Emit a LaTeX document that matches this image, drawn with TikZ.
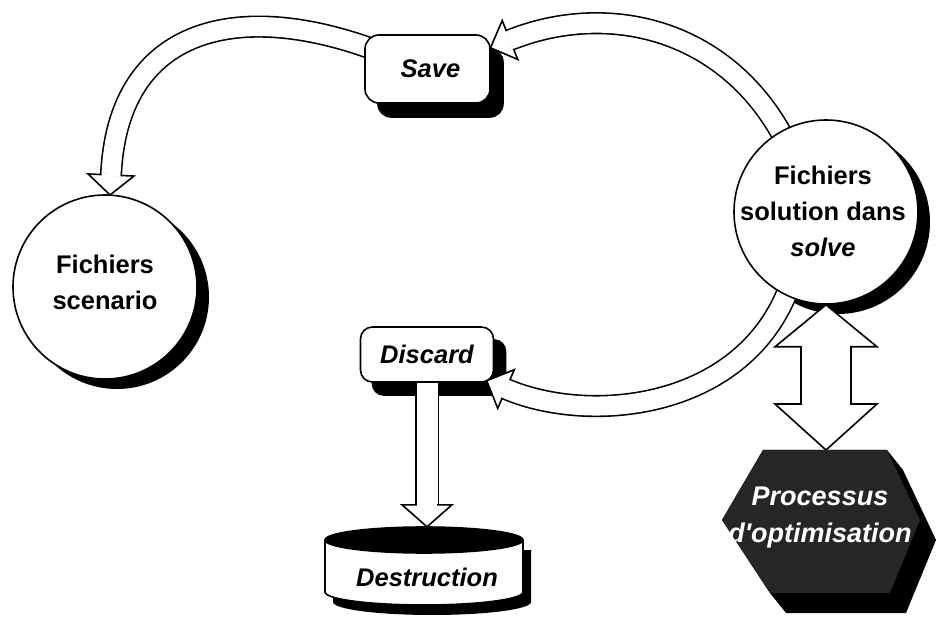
\documentclass[tikz,border=0pt]{standalone}
\usepackage{fontspec}
\setmainfont{Liberation Sans}
\usetikzlibrary{calc}
\pgfdeclarelayer{shad}
\pgfdeclarelayer{arr}
\pgfsetlayers{shad,arr,main}
\begin{document}
\begin{tikzpicture}[x=1pt,y=-1pt,
  outl/.style={draw=black, line width=1.6pt},
  txt/.style={font=\fontsize{25.5}{36}\selectfont\bfseries, align=center, inner sep=0pt},
  itxt/.style={font=\fontsize{25.5}{36}\selectfont\bfseries\itshape, align=center, inner sep=0pt},
  ptxt/.style={font=\fontsize{27}{37}\selectfont\bfseries\itshape, align=center, inner sep=0pt, text=white},
  blkshaft/.style={draw=black, line width=1.6pt, double=white, double distance=19pt},
  blkhead/.style={draw=black, fill=white, line width=1.6pt, line join=miter},
  blkerase/.style={draw=white, line width=2.4pt},
  bubble/.style={circle, outl, fill=white, minimum size=184pt, inner sep=0pt},
  cmdbox/.style={outl, fill=white, inner sep=0pt, font=\fontsize{25.5}{36}\selectfont\bfseries\itshape}
]
\begin{pgfonlayer}{shad}
\fill[white] (0,0) rectangle (938,620);
\end{pgfonlayer}
\useasboundingbox (0,0) rectangle (938,620);

% ---------- nodes ----------
\node[bubble] (scen) at (105,287) {};
\node[txt] (scent) at (105,282) {Fichiers\\scenario};
\node[bubble] (solve) at (826,212) {};
\node[txt] (solvet) at (823,211) {Fichiers\\solution dans\\\textit{solve}};
\node[cmdbox, rounded corners=14pt, minimum width=125pt, minimum height=68pt] (save) at (427.5,69) {\hspace*{6pt}Save};
\node[cmdbox, rounded corners=12pt, minimum width=133pt, minimum height=55pt] (disc) at (427,354.5) {Discard};

% Destruction cylinder
\draw[outl, fill=white] (325,540) -- (325,592) arc[start angle=180, end angle=0, x radius=99, y radius=13] -- (523,540) -- cycle;
\draw[outl, fill=black] (424,540) ellipse[x radius=99, y radius=13];
\node[itxt] (destr) at (427,577) {Destruction};

% Processus hexagon (3D)
\fill[black] (763,450) -- (887,450) -- (903,470) -- (936,540) -- (906,613) -- (786,613) -- (770,593) -- (722,520) -- cycle;
\fill[black!85] (763,450) -- (887,450) -- (920,520) -- (890,593) -- (770,593) -- (722,520) -- cycle;
\node[ptxt] (proct) at (820,518) {Processus\\d\textquotesingle optimisation};
\coordinate (procn) at (826,450);

% ---------- shadows ----------
\begin{pgfonlayer}{shad}
\fill[black] ([shift={(12,10)}]scen.center) circle[radius=92pt];
\fill[black] ([shift={(12,10)}]solve.center) circle[radius=92pt];
\fill[black, rounded corners=14pt] ([shift={(13,14)}]save.north west) rectangle ([shift={(13,14)}]save.south east);
\fill[black, rounded corners=12pt] ([shift={(12,13)}]disc.north west) rectangle ([shift={(12,13)}]disc.south east);
\fill[black] (333,550) -- (333,602) arc[start angle=180, end angle=0, x radius=99, y radius=13] -- (531,550) -- cycle;
\end{pgfonlayer}

% ---------- connectors ----------
\begin{pgfonlayer}{arr}
% solve -> save
\coordinate (a1s) at (787,144);
\coordinate (a1c) at (730,30);
\coordinate (a1d) at (610,0);
\coordinate (a1b) at (510,40);
\draw[blkshaft] (a1s) .. controls (a1c) and (a1d) .. (a1b);
\draw[blkhead] ($(a1b)!21pt!90:(a1d)$) -- ($(a1b)!21pt!180:(a1d)$) -- ($(a1b)!21pt!-90:(a1d)$) -- cycle;
\draw[blkerase] ($(a1b)!9.3pt!90:(a1d)$) -- ($(a1b)!9.3pt!-90:(a1d)$);

% save -> scenario
\coordinate (a2s) at (375,50);
\coordinate (a2c) at (240,0);
\coordinate (a2d) at (118,25);
\coordinate (a2b) at (111,175);
\draw[blkshaft] (a2s) .. controls (a2c) and (a2d) .. (a2b);
\draw[blkhead] ($(a2b)!23pt!90:(a2d)$) -- ($(a2b)!20pt!180:(a2d)$) -- ($(a2b)!23pt!-90:(a2d)$) -- cycle;
\draw[blkerase] ($(a2b)!9.3pt!90:(a2d)$) -- ($(a2b)!9.3pt!-90:(a2d)$);

% solve -> discard
\coordinate (a3s) at (790,285);
\coordinate (a3c) at (745,410);
\coordinate (a3d) at (590,425);
\coordinate (a3b) at (506,389);
\draw[blkshaft] (a3s) .. controls (a3c) and (a3d) .. (a3b);
\draw[blkhead] ($(a3b)!21pt!90:(a3d)$) -- ($(a3b)!21pt!180:(a3d)$) -- ($(a3b)!21pt!-90:(a3d)$) -- cycle;
\draw[blkerase] ($(a3b)!9.3pt!90:(a3d)$) -- ($(a3b)!9.3pt!-90:(a3d)$);

% discard -> destruction
\coordinate (a4s) at ($(disc.south)+(0,-6)$);
\coordinate (a4b) at ($(disc.south)+(0,122)$);
\draw[blkshaft, double distance=21pt] (a4s) -- (a4b);
\draw[blkhead] ($(a4b)+(-25,0)$) -- ($(a4b)+(0,22)$) -- ($(a4b)+(25,0)$) -- cycle;
\draw[blkerase] ($(a4b)+(-10.3,0)$) -- ($(a4b)+(10.3,0)$);

% solve <-> processus
\coordinate (dt) at (solve.south);
\draw[blkhead] (dt) -- ($(dt)+(51,42)$) -- ($(dt)+(25,42)$) -- ($(procn)+(25,-46)$) -- ($(procn)+(51,-46)$) -- (procn) -- ($(procn)+(-51,-46)$) -- ($(procn)+(-25,-46)$) -- ($(dt)+(-25,42)$) -- ($(dt)+(-51,42)$) -- cycle;
\end{pgfonlayer}
\end{tikzpicture}
\end{document}
